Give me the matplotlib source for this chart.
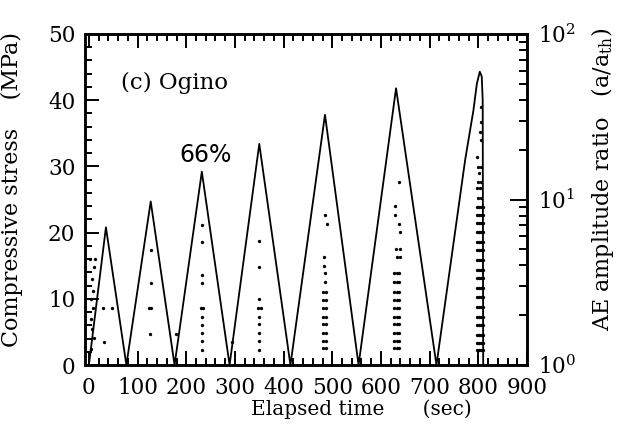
import matplotlib.pyplot as plt
from matplotlib.ticker import MultipleLocator, LogLocator, NullFormatter

plt.rcParams['font.family'] = 'DejaVu Serif'
plt.rcParams['mathtext.fontset'] = 'dejavuserif'

# stress history (sec, MPa)
stress_t = [0, 35, 77, 127, 176, 232, 289, 350, 414, 485, 554, 631, 714,
            773, 790, 797, 803, 807, 809, 810]
stress_mpa = [0, 20.8, 0, 24.7, 0, 29.2, 0, 33.4, 0, 37.8, 0, 41.8, 0,
              31, 38.5, 42.5, 44.3, 43.6, 40, 0]

# AE events, one list pair per loading cycle (sec, a/a_th)
c1_t = [3, 12, 10, 6, 8, 5, 9, 4, 7, 10, 5, 30, 47, 32]
c1_a = [4.4, 4.4, 3.9, 3.3, 2.8, 2.5, 2.2, 1.9, 1.65, 1.45, 1.25, 2.2, 2.2, 1.38]

c2_t = [127, 127, 123, 127, 125, 179]
c2_a = [4.95, 3.12, 2.22, 2.22, 1.54, 1.54]

c3_t = [232, 232, 232, 232, 230, 235, 232, 232, 232, 232, 232, 294]
c3_a = [7.02, 5.56, 3.50, 3.12, 2.22, 2.22, 1.96, 1.75, 1.57, 1.40, 1.23, 1.38]

c4_t = [350, 350, 350, 348, 353, 350, 350, 350, 350, 350]
c4_a = [5.61, 3.93, 2.49, 2.22, 2.22, 1.96, 1.77, 1.57, 1.40, 1.23]

c5_t = [485, 490, 482, 484, 485, 486,
        480, 487, 480, 487, 480, 487, 480, 487,
        480, 487, 480, 487, 480, 487, 480, 487]
c5_a = [8.06, 7.13, 4.51, 3.98, 3.58, 3.19,
        2.77, 2.77, 2.47, 2.47, 2.20, 2.20, 1.96, 1.96,
        1.77, 1.77, 1.57, 1.57, 1.40, 1.40, 1.26, 1.26]

c6_t = [637, 628, 628, 637, 639, 630, 640, 633, 640,
        626, 632, 638, 626, 632, 638, 626, 632, 638, 626, 632, 638,
        626, 632, 638, 626, 632, 638, 626, 632, 638, 626, 632, 638,
        626, 632, 638, 626, 632, 638]
c6_a = [12.8, 9.15, 8.06, 7.13, 6.39, 5.02, 5.02, 4.51, 4.51,
        3.58, 3.58, 3.58, 3.19, 3.19, 3.19, 2.77, 2.77, 2.77, 2.47, 2.47, 2.47,
        2.20, 2.20, 2.20, 1.96, 1.96, 1.96, 1.77, 1.77, 1.77, 1.57, 1.57, 1.57,
        1.40, 1.40, 1.40, 1.26, 1.26, 1.26]

c7_t = [805, 805, 804, 806, 798, 800, 806, 802, 800, 806, 798, 804, 800, 806,
        797, 801, 805, 809, 797, 801, 805, 809, 797, 801, 805, 809,
        797, 801, 805, 809, 797, 801, 805, 809, 797, 801, 805, 809,
        797, 801, 805, 809, 797, 801, 805, 809, 797, 801, 805, 809,
        797, 801, 805, 809, 797, 801, 805, 809, 797, 801, 805, 809,
        797, 801, 805, 809, 797, 801, 805, 809, 797, 801, 805, 809,
        797, 801, 805, 809, 797, 801, 805, 809]
c7_a = [36.4, 29.5, 25.7, 22.9, 18.1, 15.8, 15.8, 14.4, 12.8, 12.8, 11.7, 11.7, 10.2, 10.2,
        9.05, 9.05, 9.05, 9.05, 8.06, 8.06, 8.06, 8.06, 7.18, 7.18, 7.18, 7.18,
        6.39, 6.39, 6.39, 6.39, 5.56, 5.56, 5.56, 5.56, 4.95, 4.95, 4.95, 4.95,
        4.31, 4.31, 4.31, 4.31, 3.75, 3.75, 3.75, 3.75, 3.34, 3.34, 3.34, 3.34,
        2.91, 2.91, 2.91, 2.91, 2.59, 2.59, 2.59, 2.59, 2.25, 2.25, 2.25, 2.25,
        1.96, 1.96, 1.96, 1.96, 1.75, 1.75, 1.75, 1.75, 1.52, 1.52, 1.52, 1.52,
        1.35, 1.35, 1.35, 1.35, 1.23, 1.23, 1.23, 1.23]

ae_t = c1_t + c2_t + c3_t + c4_t + c5_t + c6_t + c7_t
ae_a = c1_a + c2_a + c3_a + c4_a + c5_a + c6_a + c7_a

fig = plt.figure(figsize=(6.18, 4.33), dpi=100)
ax = fig.add_axes([85 / 618, 1 - 365 / 433, 442 / 618, 331 / 433])

ax.plot(stress_t, stress_mpa, color='black', lw=1.3)
ax.set_xlim(-8, 900)
ax.set_ylim(0, 50)
ax.xaxis.set_major_locator(MultipleLocator(100))
ax.xaxis.set_minor_locator(MultipleLocator(20))
ax.yaxis.set_major_locator(MultipleLocator(10))
ax.yaxis.set_minor_locator(MultipleLocator(2))
ax.tick_params(which='both', direction='in', top=True, right=False, width=1.4, labelsize=15.5)
ax.tick_params(which='major', length=10, pad=7)
ax.tick_params(axis='x', which='major', pad=9)
ax.tick_params(which='minor', length=5)
for s in ax.spines.values():
    s.set_linewidth(1.8)

ax.set_xlabel('Elapsed time      (sec)', fontsize=14.5)
ax.xaxis.set_label_coords(0.625, -0.105)
ax.set_ylabel('Compressive stress    (MPa)', fontsize=16)
ax.yaxis.set_label_coords(-0.14, 0.53)

ax.text(65, 42.6, '(c) Ogino', fontsize=16.5, va='center')
ax.text(240, 31.7, '66%', fontsize=17, family='DejaVu Sans', ha='center', va='center')

ax2 = ax.twinx()
ax2.plot(ae_t, ae_a, 'o', color='black', ms=2.4, mew=0)
ax2.set_yscale('log')
ax2.set_ylim(1, 100)
ax2.yaxis.set_major_locator(LogLocator(base=10))
ax2.yaxis.set_minor_locator(LogLocator(base=10, subs=range(2, 10)))
ax2.yaxis.set_minor_formatter(NullFormatter())
ax2.tick_params(which='both', direction='in', width=1.4, labelsize=15.5)
ax2.tick_params(which='major', length=12, pad=8)
ax2.tick_params(which='minor', length=6)
ax2.set_ylabel('AE amplitude ratio   (a/a$_{\\rm th}$)', fontsize=16)
ax2.yaxis.set_label_coords(1.14, 0.56)
for s in ax2.spines.values():
    s.set_linewidth(1.8)

fig.savefig('out.png', dpi=100)
